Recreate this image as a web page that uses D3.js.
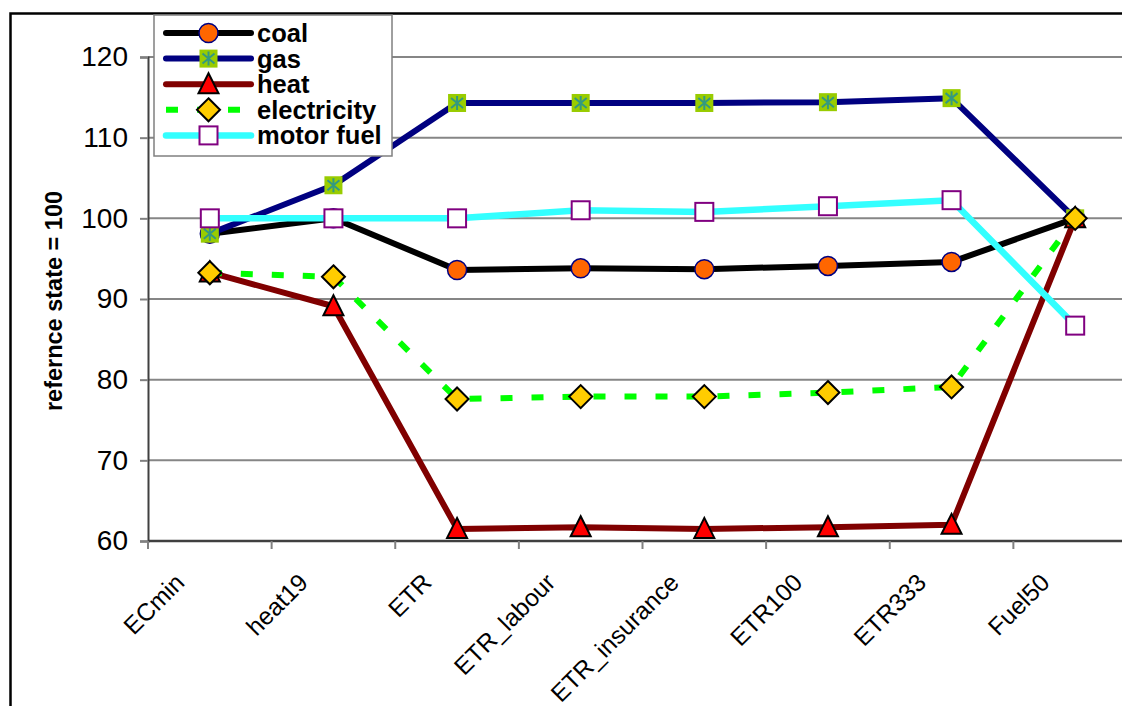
<!DOCTYPE html>
<html>
<head>
<meta charset="utf-8">
<script src="https://cdn.jsdelivr.net/npm/d3@7"></script>
<style>
  body { margin: 0; background: #fff; }
  svg { display: block; font-family: "Liberation Sans", Arial, sans-serif; }
</style>
</head>
<body>
<div class="chart"></div>
<script>
var categories = ["ECmin", "heat19", "ETR", "ETR_labour", "ETR_insurance", "ETR100", "ETR333", "Fuel50"];
var coal = [98.1, 100.0, 93.6, 93.8, 93.7, 94.1, 94.6, 100.0];
var gas = [98.1, 104.1, 114.3, 114.3, 114.3, 114.4, 114.9, 100.0];
var heat = [93.3, 89.1, 61.5, 61.7, 61.5, 61.7, 62.0, 100.0];
var electricity = [93.25, 92.75, 77.6, 77.9, 77.9, 78.4, 79.1, 100.0];
var motorFuel = [100.0, 100.0, 100.0, 101.0, 100.8, 101.5, 102.25, 86.7];
var yTicks = [60, 70, 80, 90, 100, 110, 120];

var svgWidth = 1122;
var svgHeight = 706;

var margin = { top: 57, left: 148 };
var width = 989;   // plot runs past the right edge, like the picture
var height = 484;

var svg = d3.select(".chart")
  .append("svg")
  .attr("width", svgWidth)
  .attr("height", svgHeight);

// chart area border (only top and left are in frame)
svg.append("path")
  .attr("d", "M10.5,706 V13.5 H1122")
  .attr("fill", "none")
  .attr("stroke", "#000")
  .attr("stroke-width", 2.5);

var chartGroup = svg.append("g")
  .attr("transform", `translate(${margin.left}, ${margin.top})`);

var xScale = d3.scaleBand()
  .domain(categories)
  .range([0, width]);

var yScale = d3.scaleLinear()
  .domain([60, 120])
  .range([height, 0]);

// gridlines
chartGroup.selectAll(".grid")
  .data(yTicks.slice(1))
  .enter()
  .append("line")
  .attr("x1", 0)
  .attr("x2", width)
  .attr("y1", d => yScale(d))
  .attr("y2", d => yScale(d))
  .attr("stroke", "#868686")
  .attr("stroke-width", 2);

// y axis
var leftAxis = d3.axisLeft(yScale).tickValues(yTicks).tickSize(8).tickPadding(12);
var yAxisG = chartGroup.append("g").call(leftAxis);
yAxisG.select(".domain").attr("stroke", "#404040").attr("stroke-width", 2);
yAxisG.selectAll(".tick line").attr("stroke", "#808080").attr("stroke-width", 2);
yAxisG.selectAll(".tick text")
  .attr("font-size", 28)
  .attr("fill", "#000")
  .attr("font-family", "Liberation Sans, Arial, sans-serif");

// x axis: ticks at category boundaries
var xAxisG = chartGroup.append("g")
  .attr("transform", `translate(0, ${height})`);
xAxisG.append("line")
  .attr("x1", 0).attr("x2", width)
  .attr("stroke", "#404040").attr("stroke-width", 2.5);
xAxisG.selectAll(".xtick")
  .data(categories)
  .enter()
  .append("line")
  .attr("x1", d => xScale(d))
  .attr("x2", d => xScale(d))
  .attr("y1", 0).attr("y2", 8)
  .attr("stroke", "#808080").attr("stroke-width", 2);
xAxisG.selectAll(".xlabel")
  .data(categories)
  .enter()
  .append("text")
  .attr("transform", d => `translate(${xScale(d) + xScale.bandwidth() / 2 - 24}, 43) rotate(-45)`)
  .attr("text-anchor", "end")
  .attr("font-size", 24.5)
  .attr("fill", "#000")
  .text(d => d);

// y axis title
svg.append("text")
  .attr("transform", "translate(62, 301) rotate(-90)")
  .attr("text-anchor", "middle")
  .attr("font-size", 23.5)
  .attr("font-weight", "bold")
  .text("refernce state = 100");

var series = [
  { name: "coal", values: coal, color: "#000000", width: 6, dash: null, marker: "circle" },
  { name: "gas", values: gas, color: "#000080", width: 6, dash: null, marker: "gas" },
  { name: "heat", values: heat, color: "#800000", width: 6, dash: null, marker: "triangle" },
  { name: "electricity", values: electricity, color: "#00FF00", width: 6, dash: "12,19", marker: "diamond" },
  { name: "motor fuel", values: motorFuel, color: "#33FFFF", width: 6.5, dash: null, marker: "square" }
];

function drawMarker(g, type) {
  if (type === "circle") {
    g.append("circle").attr("r", 9.5)
      .attr("fill", "#FF6600").attr("stroke", "#000080").attr("stroke-width", 1.5);
  } else if (type === "gas") {
    g.append("rect").attr("x", -9).attr("y", -9).attr("width", 18).attr("height", 18)
      .attr("fill", "#99CC00");
    g.append("path")
      .attr("d", "M0,-7V7M-6,-5L6,5M-6,5L6,-5")
      .attr("stroke", "#339980").attr("stroke-width", 2).attr("fill", "none");
  } else if (type === "triangle") {
    g.append("path").attr("d", "M0,-11L10,9H-10Z")
      .attr("fill", "#FF0000").attr("stroke", "#000").attr("stroke-width", 2)
      .attr("stroke-linejoin", "miter");
  } else if (type === "diamond") {
    g.append("path").attr("d", "M0,-11.5L11.5,0L0,11.5L-11.5,0Z")
      .attr("fill", "#FFCC00").attr("stroke", "#000").attr("stroke-width", 2);
  } else if (type === "square") {
    g.append("rect").attr("x", -9).attr("y", -9).attr("width", 18).attr("height", 18)
      .attr("fill", "#fff").attr("stroke", "#800080").attr("stroke-width", 2);
  }
}

var line = d3.line()
  .x((d, i) => xScale(categories[i]) + xScale.bandwidth() / 2)
  .y(d => yScale(d));

series.forEach(function (s) {
  chartGroup.append("path")
    .datum(s.values)
    .attr("d", line)
    .attr("fill", "none")
    .attr("stroke", s.color)
    .attr("stroke-width", s.width)
    .attr("stroke-dasharray", s.dash)
    .attr("stroke-linejoin", "round");

  chartGroup.selectAll(".m-" + s.marker)
    .data(s.values)
    .enter()
    .append("g")
    .attr("transform", (d, i) => `translate(${xScale(categories[i]) + xScale.bandwidth() / 2}, ${yScale(d)})`)
    .each(function () { drawMarker(d3.select(this), s.marker); });
});

// legend
var legend = svg.append("g").attr("transform", "translate(154, 15)");
legend.append("rect")
  .attr("width", 238).attr("height", 141)
  .attr("fill", "#fff").attr("stroke", "#808080").attr("stroke-width", 1.5);

series.forEach(function (s, i) {
  var row = legend.append("g").attr("transform", `translate(0, ${18 + i * 25.6})`);
  row.append("line")
    .attr("x1", 12).attr("x2", 97)
    .attr("stroke", s.color)
    .attr("stroke-width", s.width)
    .attr("stroke-dasharray", s.dash)
    .attr("stroke-linecap", s.dash ? "butt" : "round");
  var mk = row.append("g").attr("transform", "translate(54.5, 0)");
  drawMarker(mk, s.marker);
  row.append("text")
    .attr("x", 103).attr("y", 9)
    .attr("font-size", 25.5)
    .attr("font-weight", "bold")
    .text(s.name);
});
</script>
</body>
</html>
